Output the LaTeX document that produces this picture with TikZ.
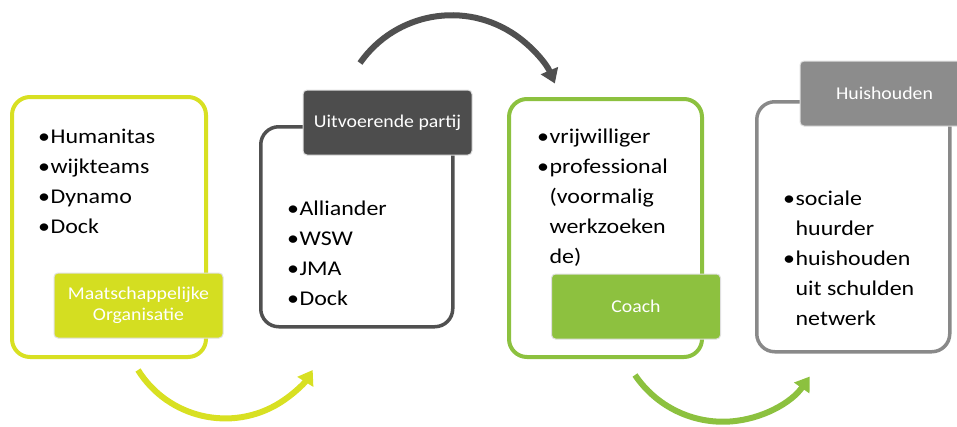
\documentclass[tikz,border=0pt]{standalone}
\usepackage{fontspec}
\setmainfont{Carlito}
\newfontfamily\bodyfont{Carlito}[FakeStretch=1.14]
\newfontfamily\labfont{Carlito}[FakeStretch=1.1]
\usetikzlibrary{arrows.meta}
\definecolor{ylw}{HTML}{D8E022}
\definecolor{ylwlab}{HTML}{D4DE21}
\definecolor{dgr}{HTML}{505050}
\definecolor{dgrlab}{HTML}{4D4D4D}
\definecolor{grn}{HTML}{8CC13F}
\definecolor{grnlab}{HTML}{8DC13F}
\definecolor{mgr}{HTML}{898989}
\definecolor{mgrlab}{HTML}{8C8C8C}
\begin{document}
\begin{tikzpicture}[x=1pt,y=1pt,
  card/.style={draw, line width=4pt, rounded corners=18pt, fill=white, anchor=north west, inner sep=0pt},
  tag/.style={rounded corners=4pt, draw=black!12, line width=1pt, text=white, align=center,
    font=\labfont\fontsize{18}{21}\selectfont, minimum width=169pt, minimum height=65pt, inner sep=0pt},
  items/.style={anchor=north west, inner sep=0pt, font=\bodyfont\fontsize{21}{30}\selectfont},
  flow/.style={line width=6pt, -{Triangle[length=14pt,width=18pt]}}]
\useasboundingbox (0,0) rectangle (957,-426);
% cards
\node[card, draw=ylw, minimum width=194pt, minimum height=260pt] (b1) at (10,-95) {};
\node[card, draw=dgr, line width=3.5pt, minimum width=192pt, minimum height=200pt] (b2) at (259,-125) {};
\node[card, draw=grn, minimum width=193pt, minimum height=258pt] (b3) at (507,-97) {};
\node[card, draw=mgr, line width=3.5pt, minimum width=193pt, minimum height=250pt] (b4) at (755,-100) {};
% item lists
\node[items] (l1) at (38,-122) {\begin{tabular}{@{}l@{\hspace{0.5pt}}l@{}}\textbullet&Humanitas\\ \textbullet&wijkteams\\ \textbullet&Dynamo\\ \textbullet&Dock\end{tabular}};
\node[items] (l2) at (287,-194) {\begin{tabular}{@{}l@{\hspace{0.5pt}}l@{}}\textbullet&Alliander\\ \textbullet&WSW\\ \textbullet&JMA\\ \textbullet&Dock\end{tabular}};
\node[items] (l3) at (537,-122) {\begin{tabular}{@{}l@{\hspace{0.5pt}}l@{}}\textbullet&vrijwilliger\\ \textbullet&professional\\ &(voormalig\\ &werkzoeken\\ &de)\end{tabular}};
\node[items] (l4) at (783,-184) {\begin{tabular}{@{}l@{\hspace{0.5pt}}l@{}}\textbullet&sociale\\ &huurder\\ \textbullet&huishouden\\ &uit schulden\\ &netwerk\end{tabular}};
% tags
\node[tag, fill=ylwlab] (t1) at (138.5,-305.5) {Maatschappelijke\\Organisatie};
\node[tag, fill=dgrlab] (t2) at (387.5,-122.5) {\raisebox{-5pt}{Uitvoerende partij}};
\node[tag, fill=grnlab] (t3) at (636,-306.5) {Coach};
\node[tag, fill=mgrlab] (t4) at (884.5,-93.5) {Huishouden};
% arrows
\coordinate (a1s) at (138,-370);
\coordinate (a2s) at (360,-63);
\coordinate (a3s) at (635,-375);
\draw[flow, draw=ylw] (a1s) arc[start angle=212, end angle=328, radius=103];
\draw[flow, draw=dgr] (a2s) arc[start angle=145, end angle=23, radius=112];
\draw[flow, draw=grn] (a3s) arc[start angle=214, end angle=325, radius=106];
\end{tikzpicture}
\end{document}
